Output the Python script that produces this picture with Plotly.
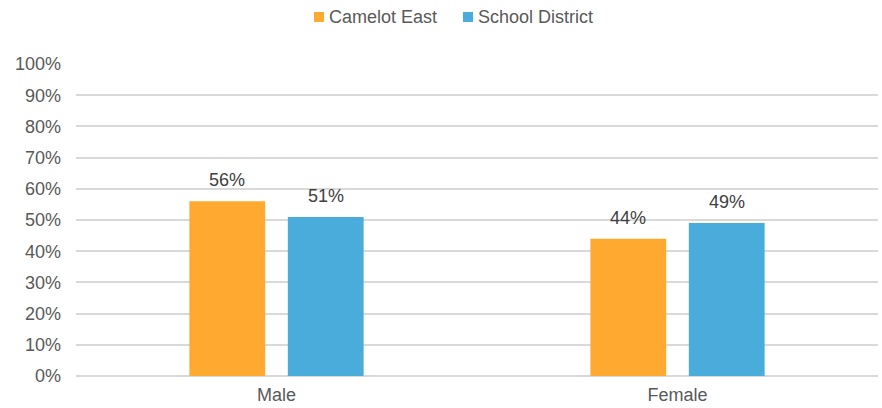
import plotly.graph_objects as go

categories = ["Male", "Female"]
series_names = ["Camelot East", "School District"]
camelot_east = [0.56, 0.44]
school_district = [0.51, 0.49]
colors = ["#FFA931", "#4AACDB"]
series_values = [camelot_east, school_district]

FONT = "Liberation Sans, Arial, sans-serif"
TXT = "#595959"

fig = go.Figure()
for name, vals, col in zip(series_names, series_values, colors):
    fig.add_trace(go.Bar(
        x=categories, y=vals, name=name, marker=dict(color=col, line=dict(width=0)),
        showlegend=False,
    ))

# data labels above bars
n = len(series_names)
slot_px = 98.5
for i, vals in enumerate(series_values):
    off = (i - (n - 1) / 2) * slot_px
    for cat, v in zip(categories, vals):
        fig.add_annotation(x=cat, y=v, xref="x", yref="y", text=f"{round(v*100)}%",
                           showarrow=False, xshift=off, yanchor="bottom", yshift=9,
                           font=dict(family=FONT, size=18, color="#404040"))

# manual legend (top centre)
legend_x0 = [314, 463]
for name, col, x0 in zip(series_names, colors, legend_x0):
    fig.add_shape(type="rect", xref="paper", yref="paper",
                  x0=(x0 - 76) / 802, x1=(x0 + 10 - 76) / 802,
                  y0=(376 - 22) / 312, y1=(376 - 12) / 312,
                  fillcolor=col, line=dict(width=0))
    fig.add_annotation(xref="paper", yref="paper", x=(x0 + 13 - 76) / 802,
                       y=(376 - 17) / 312, text=name, showarrow=False,
                       xanchor="left", yanchor="middle",
                       font=dict(family=FONT, size=18, color=TXT))

fig.update_layout(
    width=882, height=408,
    margin=dict(l=76, r=4, t=64, b=32),
    paper_bgcolor="white", plot_bgcolor="white",
    font=dict(family=FONT, size=18, color=TXT),
    barmode="group", bargap=0.509, bargroupgap=0.23,
    showlegend=False,
)
fig.update_yaxes(range=[0, 1], dtick=0.1, tickformat=".0%", showgrid=True,
                 gridcolor="#D9D9D9", gridwidth=1.5, zeroline=True, zerolinecolor="#D9D9D9",
                 zerolinewidth=1.5, ticks="", ticklabelstandoff=14,
                 tickfont=dict(family=FONT, size=18, color=TXT))
fig.update_xaxes(showline=False, ticks="", ticklabelstandoff=6,
                 tickfont=dict(family=FONT, size=18, color=TXT))

fig.write_html("out.html")
